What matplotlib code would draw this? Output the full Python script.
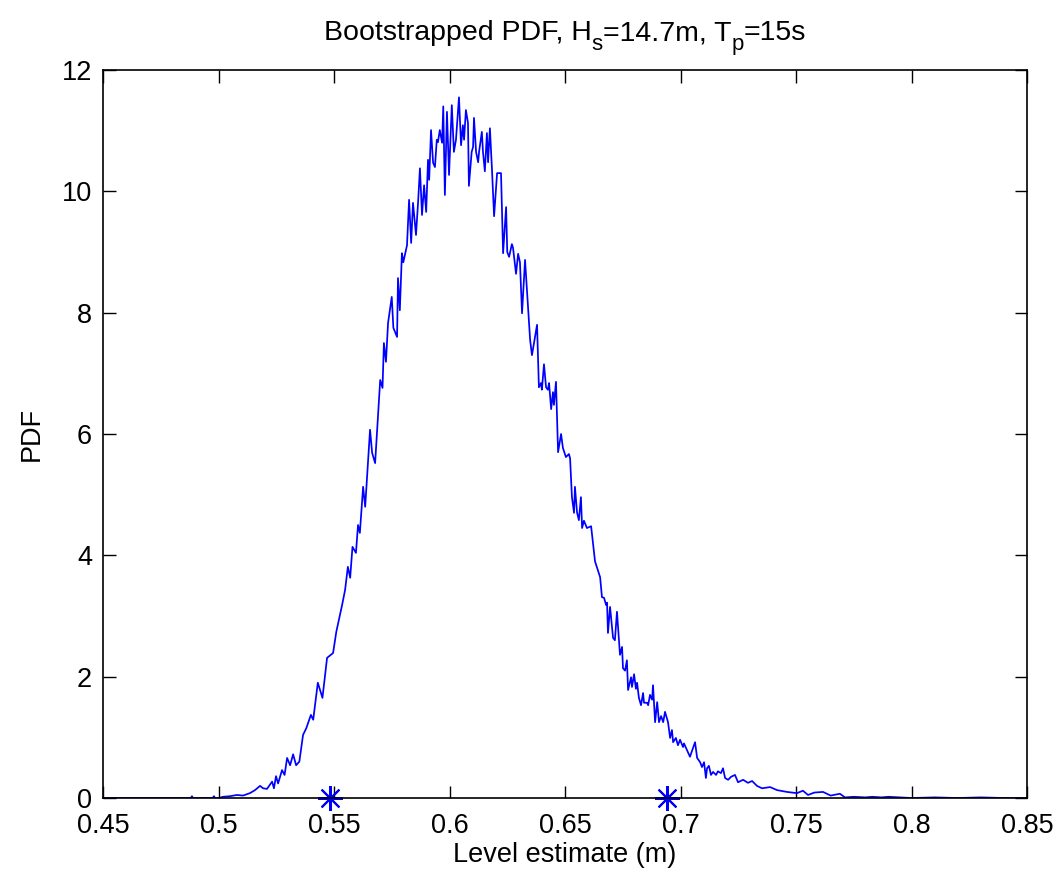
import matplotlib
matplotlib.use("Agg")
import matplotlib.pyplot as plt

# Bootstrapped PDF curve (x = level estimate in m, y = PDF)
pdf_x = [0.450, 0.480, 0.4880, 0.4885, 0.4890, 0.4950, 0.4975, 0.4980, 0.4985, 0.5000, 0.5020,
         0.5050, 0.5080, 0.5106, 0.5136, 0.5158, 0.5180, 0.5193, 0.5210, 0.5232, 0.5240,
         0.5249, 0.5258, 0.5275, 0.5286, 0.5297, 0.5310, 0.5323, 0.5336, 0.5350, 0.5366,
         0.5380, 0.5400, 0.5410, 0.5430, 0.5450, 0.5470, 0.5496, 0.5510, 0.5535, 0.5548,
         0.5560, 0.5570, 0.5580, 0.5595, 0.5604, 0.5612, 0.5626, 0.5635, 0.5656, 0.5665,
         0.5678, 0.5700, 0.5710, 0.5716, 0.5725, 0.5734, 0.5750, 0.5757, 0.5773, 0.5777,
         0.5785, 0.5794, 0.5800, 0.5816, 0.5825, 0.5834, 0.5842, 0.5855, 0.5864, 0.5872,
         0.5881, 0.5890, 0.5899, 0.5907, 0.5912, 0.5920, 0.5929, 0.5937, 0.5945, 0.5950,
         0.5958, 0.5968, 0.5973, 0.5980, 0.5989, 0.5998, 0.6010, 0.6019, 0.6028, 0.6041,
         0.6050, 0.6058, 0.6063, 0.6071, 0.6080, 0.6084, 0.6096, 0.6102, 0.6106, 0.6115,
         0.6124, 0.6128, 0.6140, 0.6145, 0.6153, 0.6162, 0.6167, 0.6175, 0.6184, 0.6193,
         0.6206, 0.6223, 0.6232, 0.6245, 0.6250, 0.6258, 0.6270, 0.6275, 0.6288, 0.6297,
         0.6305, 0.6314, 0.6327, 0.6336, 0.6349, 0.6357, 0.6379, 0.6387, 0.6396, 0.6400,
         0.6409, 0.6418, 0.6426, 0.6431, 0.6440, 0.6448, 0.6452, 0.6461, 0.6470, 0.6483,
         0.6491, 0.6504, 0.6517, 0.6522, 0.6530, 0.6539, 0.6543, 0.6552, 0.6560, 0.6569,
         0.6574, 0.6582, 0.6595, 0.6613, 0.6630, 0.6652, 0.6660, 0.6669, 0.6678, 0.6682,
         0.6686, 0.6695, 0.6708, 0.6716, 0.6725, 0.6738, 0.6747, 0.6751, 0.6760, 0.6768,
         0.6773, 0.6786, 0.6790, 0.6799, 0.6807, 0.6812, 0.6820, 0.6829, 0.6838, 0.6842,
         0.6855, 0.6860, 0.6868, 0.6877, 0.6881, 0.6890, 0.6899, 0.6907, 0.6916, 0.6925,
         0.6933, 0.6946, 0.6955, 0.6963, 0.6968, 0.6980, 0.6989, 0.6998, 0.7011, 0.7015,
         0.7028, 0.7041, 0.7054, 0.7063, 0.7072, 0.7085, 0.7093, 0.7102, 0.7110, 0.7115,
         0.7123, 0.7132, 0.7141, 0.7154, 0.7162, 0.7175, 0.7184, 0.7193, 0.7206, 0.7219,
         0.7236, 0.7249, 0.7271, 0.7292, 0.7310, 0.7331, 0.7353, 0.7388, 0.7418, 0.7461,
         0.7504, 0.7530, 0.7552, 0.7580, 0.7617, 0.7650, 0.7690, 0.7712, 0.7750, 0.7800,
         0.7830, 0.7870, 0.7900, 0.7950, 0.8000, 0.8100, 0.8200, 0.8300, 0.8400, 0.8500]
pdf_y = [0.00, 0.00, 0.00, 0.03, 0.00, 0.00, 0.00, 0.03, 0.00, 0.00, 0.02,
         0.03, 0.05, 0.04, 0.08, 0.13, 0.20, 0.16, 0.15, 0.27, 0.16,
         0.36, 0.24, 0.46, 0.38, 0.66, 0.54, 0.72, 0.54, 0.60, 1.04,
         1.15, 1.37, 1.29, 1.90, 1.65, 2.31, 2.39, 2.74, 3.18, 3.43,
         3.81, 3.63, 4.14, 4.04, 4.50, 4.37, 5.13, 4.80, 6.07, 5.69,
         5.52, 6.89, 6.76, 7.50, 7.19, 7.83, 8.26, 7.75, 7.60, 8.57,
         8.04, 8.98, 8.83, 9.11, 9.86, 9.15, 9.81, 9.28, 9.82, 10.38,
         9.61, 10.10, 9.66, 10.52, 10.19, 11.01, 10.47, 10.40, 10.85, 10.81,
         11.01, 10.80, 11.40, 9.94, 11.31, 10.27, 11.42, 10.65, 10.85, 11.55,
         10.76, 11.09, 10.85, 11.34, 11.13, 10.09, 10.65, 10.73, 11.21, 10.65,
         10.48, 10.65, 10.98, 10.65, 10.33, 10.96, 10.48, 11.04, 10.35, 9.59,
         10.30, 10.30, 8.98, 9.74, 9.00, 8.92, 9.13, 9.07, 8.64, 8.97,
         8.83, 7.99, 8.87, 8.32, 7.55, 7.30, 7.80, 6.77, 6.84, 6.73,
         7.15, 6.77, 6.73, 6.84, 6.41, 6.69, 6.48, 6.86, 5.70, 6.00,
         5.77, 5.62, 5.67, 5.60, 4.96, 4.70, 5.13, 4.71, 4.58, 4.96,
         4.45, 4.57, 4.45, 4.48, 3.90, 3.64, 3.31, 3.30, 3.18, 3.22,
         2.72, 3.15, 2.64, 2.60, 3.07, 2.36, 2.49, 2.14, 2.10, 2.27,
         1.78, 1.99, 1.83, 2.04, 1.80, 1.90, 1.65, 1.53, 1.73, 1.57,
         1.57, 1.53, 1.70, 1.62, 1.86, 1.25, 1.58, 1.25, 1.35, 1.25,
         1.42, 1.25, 0.99, 1.12, 0.92, 0.99, 0.87, 0.96, 0.84, 0.90,
         0.79, 0.68, 0.82, 0.92, 0.66, 0.59, 0.51, 0.59, 0.33, 0.49,
         0.53, 0.38, 0.43, 0.38, 0.44, 0.41, 0.49, 0.33, 0.30, 0.35,
         0.38, 0.26, 0.30, 0.25, 0.28, 0.20, 0.16, 0.18, 0.13, 0.10,
         0.08, 0.12, 0.05, 0.09, 0.10, 0.04, 0.07, 0.01, 0.02, 0.01,
         0.02, 0.01, 0.02, 0.01, 0.00, 0.01, 0.00, 0.01, 0.00, 0.00]

# Confidence bound markers
ci_x = [0.5481, 0.6942]
ci_y = [0.0, 0.0]

x_ticks = [0.45, 0.5, 0.55, 0.6, 0.65, 0.7, 0.75, 0.8, 0.85]
x_tick_labels = ["0.45", "0.5", "0.55", "0.6", "0.65", "0.7", "0.75", "0.8", "0.85"]
y_ticks = [0, 2, 4, 6, 8, 10, 12]

# Title pieces: (text, is_subscript)
title_parts = [("Bootstrapped PDF, H", False), ("s", True), ("=14.7m, T", False),
               ("p", True), ("=15s", False)]

plt.rcParams['font.family'] = ['Liberation Sans', 'DejaVu Sans']

W, H = 1061, 874
fig = plt.figure(figsize=(W / 100, H / 100), dpi=100)
ax = fig.add_axes([103 / W, 1 - 798 / H, (1027 - 103) / W, (798 - 70) / H])

ax.plot(pdf_x, pdf_y, color=(0, 0, 1), linewidth=1.25)
ax.plot(ci_x, ci_y, linestyle='none', marker=(8, 2, 0), color=(0, 0, 1),
        markersize=18, markeredgewidth=1.5, clip_on=False)

ax.set_xlim(0.45, 0.85)
ax.set_ylim(0, 12)
ax.set_xticks(x_ticks)
ax.set_xticklabels(x_tick_labels)
ax.set_yticks(y_ticks)

ax.tick_params(direction='in', length=9, width=1, top=True, right=True,
               labelsize=19.5)
ax.tick_params(axis='x', pad=11)
ax.tick_params(axis='y', pad=8)
for s in ax.spines.values():
    s.set_linewidth(1.2)

ax.set_xlabel("Level estimate (m)", fontsize=19.5, labelpad=2)
ax.set_ylabel("PDF", fontsize=19.5, labelpad=12)

# Title built from pieces so subscripts look like the original
renderer = fig.canvas.get_renderer()
texts = []
for txt, sub in title_parts:
    t = fig.text(0, 0, txt, fontsize=16 if sub else 20.5, va='baseline', ha='left')
    texts.append((t, sub))
widths = [t.get_window_extent(renderer).width for t, _ in texts]
total = sum(widths)
x0 = (103 + 1027) / 2 - total / 2
base_y = 40
for (t, sub), w in zip(texts, widths):
    yb = base_y + (10 if sub else 0)
    t.set_position((x0 / W, 1 - yb / H))
    x0 += w

fig.savefig("out.png", dpi=100)
